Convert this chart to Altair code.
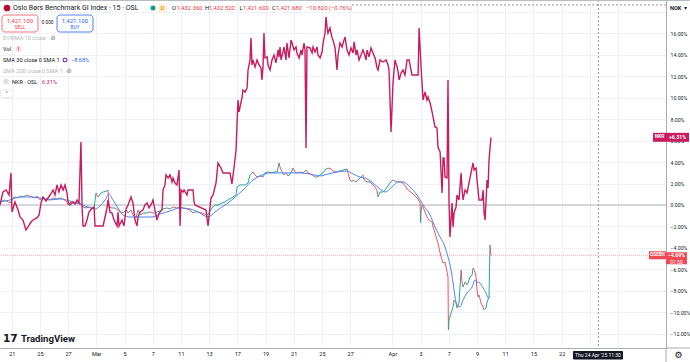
import altair as alt
import pandas as pd
import numpy as np

# ---------------- data (trading-day index, % change) ----------------
nkr_points = [(-0.83,0),(-0.62,1.21),(-0.40,1.40),(-0.19,0.93),(-0.05,2.99),(0.02,-0.65),(0.23,0.28),(0.45,-0.47),(0.59,-1.12),(0.80,-1.40),(1.01,-2.33),(1.16,-2.05),(1.37,-1.59),(1.51,-1.40),(1.79,-1.21),(1.94,-0.93),(2.08,0.19),(2.22,0.75),(2.43,0.37),(2.72,0.93),(2.93,1.40),(3.07,0.93),(3.21,1.87),(3.35,1.21),(3.50,1.87),(3.64,1.40),(3.78,1.87),(3.92,1.12),(4.00,0.28),(4.13,0),(4.35,0.28),(4.49,0.09),(4.63,0.47),(4.77,0.19),(4.91,5.88),(4.99,-0.19),(5.06,-1.96),(5.20,-1.96),(5.34,-1.40),(5.48,-0.65),(5.70,-0.28),(5.84,-0.19),(5.91,-1.96),(6.48,-1.96),(6.62,-1.12),(6.76,-0.28),(6.83,0.47),(6.97,-0.65),(7.11,-0.75),(7.26,-1.40),(7.47,-1.96),(7.54,-0.65),(7.61,-1.96),(7.82,-1.40),(7.96,-1.96),(8.11,-0.37),(8.25,0),(8.46,0.75),(8.60,0.19),(8.74,-1.40),(8.89,-1.96),(8.96,-1.12),(9.10,-0.65),(9.31,-0.47),(9.45,0),(9.60,0.19),(9.74,-0.28),(9.95,0.19),(10.02,0.47),(10.09,0),(10.16,-0.47),(10.30,-1.40),(10.45,-0.75),(10.66,-0.47),(10.73,1.40),(10.87,1.87),(10.94,2.80),(11.09,2.52),(11.23,2.80),(11.37,2.15),(11.44,2.52),(11.58,2.05),(11.72,1.87),(11.87,3.26),(11.94,-1.96),(12.01,1.40),(12.15,1.21),(12.22,1.40),(12.43,0.93),(12.50,1.40),(12.86,1.40),(12.93,0.28),(13.00,0),(13.78,-0.47),(13.92,-1.96),(13.99,-1.12),(14.13,0.65),(14.28,0.93),(14.49,2.05),(14.63,3.92),(14.84,3.45),(14.99,2.99),(15.48,2.99),(15.62,1.96),(15.77,3.54),(15.91,5.13),(15.98,7.65),(16.05,9.79),(16.12,8.68),(16.33,9.98),(16.40,10.73),(16.55,10.54),(16.69,10.91),(16.76,12.59),(16.90,13.53),(16.97,15.58),(17.04,13.06),(17.11,13.53),(17.26,12.87),(17.40,13.53),(17.54,13.06),(17.68,12.78),(17.75,11.66),(17.82,12.87),(17.89,16.04),(17.96,13.71),(18.11,13.81),(18.18,13.06),(18.32,12.59),(18.46,13.53),(18.60,13.99),(18.74,13.25),(18.89,14.46),(18.96,13.81),(19.03,14.74),(19.10,13.53),(19.24,14.27),(19.31,14.74),(19.45,13.53),(19.52,15.11),(19.67,13.71),(19.81,15.39),(19.88,15.11),(20.02,14.46),(20.16,14.74),(20.23,14.18),(20.38,13.71),(20.52,14.46),(20.59,13.99),(20.73,15.11),(20.80,14.46),(20.87,5.32),(20.94,14.74),(21.16,14.65),(21.30,14.18),(21.37,14.74),(21.51,14.27),(21.65,14.74),(21.72,13.99),(21.87,13.71),(22.01,14.27),(22.08,15.11),(22.22,16.04),(22.29,17.54),(22.36,16.60),(22.43,16.04),(22.57,16.51),(22.72,15.58),(22.79,15.39),(22.93,14.65),(23.07,12.59),(23.14,13.99),(23.28,15.11),(23.43,14.74),(23.50,15.11),(23.64,15.67),(23.78,14.46),(23.92,13.99),(24.06,14.65),(24.21,14.18),(24.28,15.21),(24.42,13.99),(24.49,14.46),(24.63,13.53),(24.77,13.99),(24.91,14.46),(24.99,14.18),(25.13,13.53),(25.20,14.46),(25.34,13.81),(25.48,14.65),(25.62,14.18),(25.77,13.71),(25.91,12.78),(25.98,12.59),(26.12,13.53),(26.33,13.34),(26.55,13.53),(26.69,13.06),(26.76,12.59),(26.90,6.81),(27.04,11.38),(27.18,13.53),(27.33,12.87),(27.40,12.41),(27.47,11.66),(27.61,12.31),(27.75,12.59),(27.89,12.13),(28.04,13.53),(28.18,13.53),(28.39,12.13),(28.82,12.13),(28.89,16.51),(29.03,12.87),(29.10,11.38),(29.17,9.79),(29.31,10.54),(29.45,9.79),(29.52,10.07),(29.67,9.51),(29.81,8.68),(29.88,8.21),(30.02,7.28),(30.16,7.18),(30.23,5.41),(30.38,4.94),(30.52,1.12),(30.59,4.38),(30.66,4.38),(30.73,2.61),(30.87,2.52),(30.94,11.66),(31.01,0.47),(31.08,-2.99),(31.23,0.19),(31.30,-2.05),(31.37,-0.75),(31.51,-0.19),(31.58,0.93),(31.72,0.47),(31.87,2.99),(31.94,1.40),(32.01,0.47),(32.15,1.40),(32.29,1.12),(32.36,1.59),(32.57,2.99),(32.72,3.92),(32.79,3.26),(32.93,3.45),(33.00,2.33),(33.14,0.47),(33.35,0.47),(33.43,1.40),(33.50,-0.75),(33.57,-1.40),(33.71,2.33),(33.78,1.59),(33.85,4.20),(33.99,6.31)]

osebx_points = [(-0.83,0.28),(-0.48,0.47),(-0.12,0.19),(0.09,0.65),(0.23,0.75),(0.45,0.65),(0.66,0.84),(0.80,0.75),(1.09,0.93),(1.23,0.84),(1.44,0.75),(1.65,0.65),(1.79,0.84),(2.01,0.47),(2.22,0.75),(2.36,0.47),(2.50,0.65),(2.72,0.47),(2.93,0.65),(3.21,0.56),(3.43,0.65),(3.64,0.56),(3.92,0.28),(4.00,0),(4.21,0.28),(4.35,0.19),(4.63,0.19),(4.84,0.19),(5.06,-0.19),(5.27,-0.28),(5.48,-0.19),(5.77,-0.37),(5.84,-0.28),(5.98,1.12),(6.12,0.75),(6.26,1.03),(6.48,1.21),(6.76,1.31),(6.83,1.40),(6.90,-0.19),(7.11,-0.28),(7.33,-0.28),(7.54,-0.47),(7.82,-0.75),(7.96,-0.65),(8.11,-0.47),(8.25,-0.75),(8.46,-0.47),(8.60,-0.93),(8.82,-1.21),(8.96,-0.47),(9.17,-0.93),(9.31,-0.75),(9.60,-0.75),(9.74,-0.65),(10.02,-0.75),(10.16,-0.75),(10.30,-0.65),(10.52,-0.56),(10.73,-0.37),(11.01,-0.28),(11.23,-0.37),(11.44,-0.19),(11.72,-0.28),(11.94,-0.19),(12.15,-0.28),(12.43,-0.37),(12.65,-0.47),(12.86,-0.75),(13.00,-0.65),(13.21,-0.65),(13.50,-0.75),(13.64,-0.84),(13.85,-0.93),(13.99,-0.75),(14.21,-0.28),(14.42,0),(14.63,0),(14.91,0.19),(15.13,0.28),(15.34,0.47),(15.69,0.75),(15.91,0.93),(15.98,1.68),(16.19,1.87),(16.55,1.87),(16.76,2.05),(16.90,2.80),(17.04,2.99),(17.11,3.08),(17.26,2.80),(17.40,2.61),(17.61,2.71),(17.82,2.61),(17.96,2.99),(18.18,3.08),(18.46,2.99),(18.60,3.08),(18.82,3.08),(18.96,3.92),(19.03,3.54),(19.17,3.08),(19.31,2.80),(19.45,2.99),(19.60,2.71),(19.81,2.99),(19.95,3.45),(20.09,3.08),(20.23,2.99),(20.45,3.08),(20.66,2.99),(20.87,3.26),(21.01,2.99),(21.30,2.80),(21.51,2.61),(21.65,2.61),(21.87,2.80),(22.08,2.99),(22.22,3.26),(22.43,3.45),(22.65,3.36),(22.79,3.17),(23.07,3.08),(23.28,3.17),(23.50,3.26),(23.78,3.36),(23.85,2.99),(23.99,2.33),(24.13,2.15),(24.21,2.33),(24.42,2.15),(24.56,2.33),(24.77,2.61),(24.91,2.80),(24.99,2.33),(25.20,2.15),(25.41,2.15),(25.62,1.87),(25.77,1.68),(25.91,1.31),(25.98,0.75),(26.12,1.21),(26.33,1.21),(26.48,1.40),(26.62,1.68),(26.83,2.05),(27.04,2.33),(27.18,2.24),(27.33,2.15),(27.54,2.15),(27.75,2.05),(27.96,1.68),(28.11,1.40),(28.39,1.12),(28.60,0.84),(28.82,0.56),(28.96,0.19),(29.00,-1.68),(29.03,-0.65),(29.10,0),(29.17,-0.19),(29.31,-0.65),(29.45,-1.12),(29.59,-1.40),(29.81,-1.59),(29.88,-2.05),(30.02,-2.61),(30.16,-3.26),(30.23,-3.54),(30.38,-4.48),(30.52,-5.13),(30.59,-5.41),(30.73,-5.32),(30.87,-6.25),(30.94,-6.72),(30.97,-11.66),(31.01,-10.73),(31.16,-10.07),(31.30,-9.51),(31.37,-8.86),(31.51,-9.14),(31.58,-9.61),(31.72,-9.14),(31.87,-6.06),(31.94,-7.28),(32.01,-7.65),(32.15,-7.18),(32.29,-7.46),(32.36,-7.28),(32.50,-6.72),(32.65,-6.53),(32.72,-5.88),(32.86,-6.25),(32.93,-6.72),(33.00,-7.93),(33.07,-8.58),(33.14,-8.40),(33.28,-9.14),(33.43,-9.51),(33.50,-9.79),(33.64,-9.61),(33.71,-9.05),(33.85,-8.58),(33.92,-3.73),(33.99,-4.69)]

sma30_points = [(-0.83,0.28),(-0.12,0.47),(0.59,0.75),(1.30,0.75),(2.01,0.65),(2.72,0.47),(3.43,0.56),(4.13,0.37),(4.84,0.09),(5.41,-0.19),(5.91,-0.37),(6.26,-0.09),(6.62,0.47),(6.90,1.03),(7.18,0.47),(7.54,-0.28),(7.89,-0.93),(8.39,-1.12),(8.89,-1.12),(9.31,-1.12),(9.95,-1.12),(10.52,-0.84),(11.23,-0.56),(11.94,-0.28),(12.65,-0.37),(13.35,-0.75),(13.92,-1.12),(14.42,-0.65),(14.91,-0.19),(15.34,0.19),(15.69,0.56),(16.40,1.40),(17.11,2.33),(17.61,2.71),(18.32,2.99),(19.03,2.99),(19.74,2.99),(20.45,2.99),(21.16,2.89),(21.87,2.71),(22.43,2.89),(23.07,3.08),(23.78,3.17),(24.21,2.89),(24.70,2.61),(25.20,2.43),(25.62,2.05),(26.12,1.49),(26.48,1.21),(26.97,1.68),(27.40,2.15),(27.75,2.15),(28.25,1.68),(28.74,0.93),(29.17,0),(29.67,-0.93),(30.02,-2.05),(30.38,-2.99),(30.73,-3.92),(30.94,-4.85),(31.16,-6.06),(31.30,-7.28),(31.44,-8.58),(31.58,-9.33),(31.79,-9.51),(32.01,-8.86),(32.29,-8.21),(32.65,-7.65),(32.86,-7.00),(33.00,-7.18),(33.21,-7.28),(33.43,-7.74),(33.64,-8.21),(33.78,-8.68),(33.92,-8.49)]

nkr_last = 6.31
osebx_last = -4.69
sma_last = -8.68
crosshair_t = 41.60
crosshair_pct = 18.66

tick_pos = [0, 2, 4, 6, 8, 10, 12, 14, 16, 18, 20, 22, 24, 27, 29, 31, 33, 35, 37, 39, 41, 43]
tick_lab = ["21", "25", "27", "Mar", "5", "7", "11", "13", "17", "19", "21", "25", "27",
            "Apr", "3", "7", "9", "11", "15", "22", "", ""]
y_ticks = [-12, -10, -8, -6, -4, -2, 0, 2, 4, 6, 8, 10, 12, 14, 16, 18]

# ---------------- style ----------------
W, H = 666, 348
FONT = "Roboto"
TXT = "#131722"
NKR_C = "#c91b5f"
UP_C, DN_C = "#22ab94", "#f7525f"
SMA_C = "#4d83f3"
GRID = "#eef1f7"
AXIS_C = "#a8abb3"

xs = alt.Scale(domain=[-0.83, 46.40], nice=False, zero=False)
ys = alt.Scale(domain=[-13.34, 19.12], nice=False, zero=False)

x_label_expr = ("[" + ",".join("'%s'" % s for s in tick_lab) + "][indexof([" +
                ",".join(str(v) for v in tick_pos) + "], datum.value)]")
xaxis = alt.Axis(values=tick_pos, labelExpr=x_label_expr, title=None, orient="bottom",
                 labelFont=FONT, labelFontSize=5.6, labelColor=TXT, labelPadding=3,
                 tickSize=0, domainColor=AXIS_C, domainWidth=1, grid=True,
                 gridColor=GRID, gridWidth=1, labelOverlap=False, labelFlush=False)
yaxis = alt.Axis(values=y_ticks, labelExpr="datum.value > 17 ? '' : format(datum.value, '.2f') + '%'",
                 title=None, orient="right", labelFont=FONT, labelFontSize=5.2, labelColor=TXT,
                 labelPadding=4, tickSize=0, domainColor=AXIS_C, domainWidth=1, grid=True,
                 gridColor=GRID, gridWidth=1, labelAlign="left", labelBaseline="middle",
                 labelOverlap=False, labelFlush=False)

def X(f):
    return alt.X(f, type="quantitative", scale=xs, axis=xaxis)

def Y(f):
    return alt.Y(f, type="quantitative", scale=ys, axis=yaxis)

nkr_df = pd.DataFrame(nkr_points, columns=["t", "p"])
sma_df = pd.DataFrame(sma30_points, columns=["t", "p"])
ob = pd.DataFrame(osebx_points, columns=["t", "p"])
seg = pd.DataFrame({"t": ob.t.values[:-1], "p": ob.p.values[:-1],
                    "t2": ob.t.values[1:], "p2": ob.p.values[1:]})
seg["dir"] = np.where(seg.p2.values >= seg.p.values, "up", "down")

one = pd.DataFrame({"k": [0]})

layers = []

# zero line and OSEBX price line
layers.append(alt.Chart(pd.DataFrame({"p": [0.0]})).mark_rule(color="#b2b5be", strokeWidth=1)
              .encode(y=Y("p")))
layers.append(alt.Chart(pd.DataFrame({"p": [osebx_last]})).mark_rule(color="#f7a6ac", strokeWidth=1, strokeDash=[1, 1])
              .encode(y=Y("p")))

# OSEBX 15-min candles as colored segments
layers.append(alt.Chart(seg).mark_rule(strokeWidth=1).encode(
    x=X("t"), x2="t2", y=Y("p"), y2="p2",
    color=alt.Color("dir:N", scale=alt.Scale(domain=["up", "down"], range=[UP_C, DN_C]), legend=None)))

# SMA 30
layers.append(alt.Chart(sma_df).mark_line(color=SMA_C, strokeWidth=1, interpolate="monotone")
              .encode(x=X("t"), y=Y("p")))

# NKR line
layers.append(alt.Chart(nkr_df).mark_line(color=NKR_C, strokeWidth=1.4)
              .encode(x=X("t"), y=Y("p")))

# crosshair
layers.append(alt.Chart(pd.DataFrame({"t": [crosshair_t]})).mark_rule(color="#9598a1", strokeWidth=1, strokeDash=[2, 2])
              .encode(x=X("t")))
layers.append(alt.Chart(pd.DataFrame({"p": [crosshair_pct]})).mark_rule(color="#9598a1", strokeWidth=1, strokeDash=[2, 2])
              .encode(y=Y("p"), x=alt.value(352), x2=alt.value(W)))

# frame lines
def hline(y, x1, x2, color=AXIS_C):
    return alt.Chart(one).mark_rule(color=color, strokeWidth=1).encode(
        y=alt.value(y), x=alt.value(x1), x2=alt.value(x2))

def vline(x, y1, y2, color=AXIS_C):
    return alt.Chart(one).mark_rule(color=color, strokeWidth=1).encode(
        x=alt.value(x), y=alt.value(y1), y2=alt.value(y2))

layers.append(hline(0.5, 0, 690, "#b8bbc2"))
layers.append(hline(H, W, 690))
layers.append(vline(W, H, 362))

def label(s, x, y, color=TXT, size=5.6, weight="normal", align="left", font=FONT):
    return alt.Chart(one).mark_text(text=s, align=align, baseline="middle", fontSize=size,
                                    fontWeight=weight, font=font, color=color).encode(
        x=alt.value(x), y=alt.value(y))

def box(x1, x2, y1, y2, fill, stroke=None, r=2):
    kw = dict(fill=fill, cornerRadius=r)
    if stroke:
        kw.update(stroke=stroke, strokeWidth=0.8)
    return alt.Chart(one).mark_rect(**kw).encode(
        x=alt.value(x1), x2=alt.value(x2), y=alt.value(y1), y2=alt.value(y2))

def dot(x, y, color, size=30, filled=True, stroke=None):
    kw = dict(filled=filled, size=size, opacity=1)
    if filled:
        kw.update(fill=color)
        if stroke:
            kw.update(stroke=stroke, strokeWidth=1)
    else:
        kw.update(stroke=color, strokeWidth=1.3)
    return alt.Chart(one).mark_point(shape="circle", **kw).encode(x=alt.value(x), y=alt.value(y))

# price tags on the right axis
def tag(p, xc, w, h, color, yoff=0):
    return alt.Chart(pd.DataFrame({"p": [p]})).mark_tick(
        orient="horizontal", size=w, thickness=h, color=color, opacity=1, yOffset=yoff).encode(
        x=alt.value(xc), y=Y("p"))

def tagtext(p, s, xc, size=5.4, dy=0, weight="bold"):
    return alt.Chart(pd.DataFrame({"p": [p]})).mark_text(
        text=s, align="center", baseline="middle", fontSize=size, fontWeight=weight,
        font=FONT, color="white", dy=dy).encode(x=alt.value(xc), y=Y("p"))

layers += [
    tag(nkr_last, 659.5, 13, 9, NKR_C), tag(nkr_last, 677.5, 23, 9, NKR_C),
    tagtext(nkr_last, "NKR", 659.5, 4.8), tagtext(nkr_last, "+6.31%", 677.5, 5.2),
    tag(osebx_last, 657.5, 17, 8, "#f04a55"), tag(osebx_last, 676.5, 21, 12, "#f04a55", 3),
    tagtext(osebx_last, "OSEBX", 657.5, 4.8),
    tagtext(osebx_last, "\u22124.69%", 676.5, 5.2, 0), tagtext(osebx_last, "01:50", 676.5, 5.0, 6.5, "normal"),
]

# date box of the crosshair
layers += [box(573, 623, 351, 359.5, TXT, r=1),
           label("Thu 24 Apr '25  11:30", 598, 355.3, "white", 5.0, "normal", "center")]

# top-right currency and bottom-right gear
layers += [label("NOK", 670, 8, TXT, 5.6, "bold"), label("\u25be", 684, 8, TXT, 6, "normal", "left", "DejaVu Sans"),
           label("\u2699", 678.5, 354.5, TXT, 9, "normal", "center", "DejaVu Sans")]

# legend block
ohlc_red = "#f23645"
OH = 5.9
layers += [
    dot(7, 8, "#ba0c2f", 45),
    label("Oslo Børs Benchmark GI Index · 15 · OSL", 13, 8, TXT, 7.0),
    dot(153, 8, "#089981", 32, True, "#c8ece6"),
    box(158, 167, 3.5, 12.5, "#fff3e0", r=2),
    label("D", 162.5, 8, "#ff9800", 6, "bold", "center"),
    label("O", 172, 8, TXT, OH), label("1,432.360", 176.5, 8, ohlc_red, OH),
    label("H", 205, 8, TXT, OH), label("1,432.520", 209, 8, ohlc_red, OH),
    label("L", 239.5, 8, TXT, OH), label("1,421.600", 243, 8, ohlc_red, OH),
    label("C", 272, 8, TXT, OH), label("1,421.680", 276, 8, ohlc_red, OH),
    label("\u221210.820 (\u22120.76%)", 306, 8, ohlc_red, OH),
    box(2, 38, 15, 32, "white", "#f7525f", 3),
    label("1,421.100", 20, 20.5, "#f23645", 6.0, "normal", "center"),
    label("SELL", 20, 27.5, "#f23645", 4.8, "normal", "center"),
    label("0.000", 47.5, 23, TXT, 4.8, "normal", "center"),
    box(57, 93, 15, 32, "white", "#2962ff", 3),
    label("1,421.100", 75, 20.5, "#2962ff", 6.0, "normal", "center"),
    label("BUY", 75, 27.5, "#2962ff", 4.8, "normal", "center"),
    label("EVWMA 10 close", 3, 38, "#b2b5be", 5.6),
    label("\u2298", 53, 38, "#787b86", 6.5, "normal", "center", "DejaVu Sans"),
    label("Vol", 3, 49, TXT, 5.6),
    dot(18.5, 49, "#fde0e2", 36),
    label("!", 18.5, 49, "#f23645", 6, "bold", "center"),
    label("SMA 30 close 0 SMA 1", 3, 60, TXT, 5.6),
    dot(65, 60, "#7e57c2", 14, False),
    label("\u22128.68%", 71, 60, "#2962ff", 5.6),
    label("SMA 200 close 0 SMA 1", 3, 71, "#b2b5be", 5.6),
    label("\u2298", 69, 71, "#787b86", 6.5, "normal", "center", "DejaVu Sans"),
    dot(6, 81.5, "#e0e3eb", 36),
    label("NKR · OSL", 12, 81.5, TXT, 5.6),
    label("6.31%", 42, 81.5, NKR_C, 5.6),
    box(0.5, 13, 90, 97.5, "white", "#e0e3eb", 2),
    label("\u02c4", 6.7, 94, TXT, 6, "normal", "center", "DejaVu Sans"),
]

# TradingView watermark
layers += [label("17", 3, 339, TXT, 10.5, 900, "left", "DejaVu Sans"),
           label("TradingView", 21, 339, TXT, 9.6, "bold")]

chart = alt.layer(*layers).properties(
    width=W, height=H,
    autosize=alt.AutoSizeParams(type="none"),
    padding={"left": 0, "top": 0, "right": 24, "bottom": 14},
    background="white",
).configure_view(stroke=None)

chart.save("out.html", embed_options={"renderer": "svg", "actions": False})
